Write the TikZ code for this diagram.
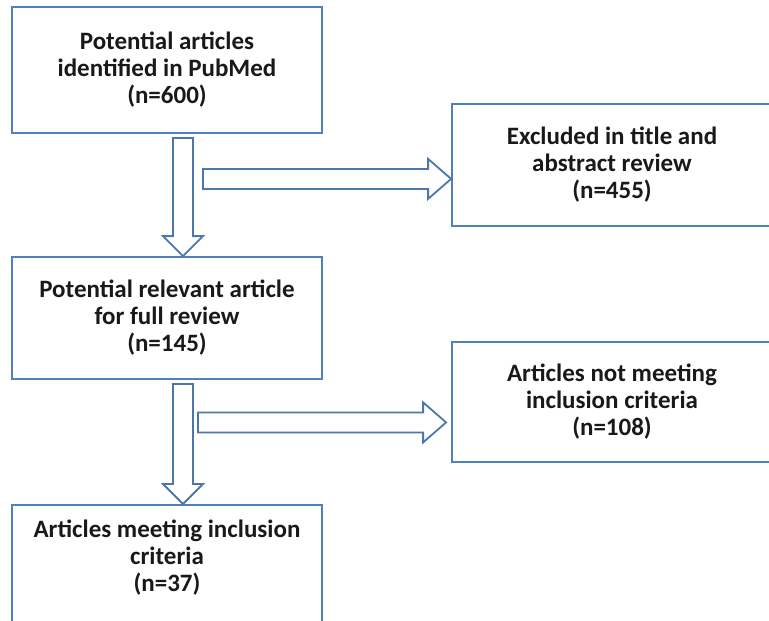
\documentclass[tikz,border=0pt]{standalone}
\usepackage{fontspec}
\setmainfont{Carlito}
\usetikzlibrary{calc}
\definecolor{boxblue}{HTML}{4F81BD}
\definecolor{arrowblue}{HTML}{4A78AC}
\begin{document}
\begin{tikzpicture}[x=1pt,y=-1pt,
  txt/.style={align=center, font=\fontsize{25}{27}\selectfont\bfseries, text=black!90},
  box/.style={txt, draw=boxblue, line width=1.8pt, rectangle, inner sep=0pt},
  fatdown/.style={draw=arrowblue, line width=1.8pt, fill=white, line join=miter,
    to path={let \p1=(\tikztostart), \p2=(\tikztotarget) in
      (\x1-10pt,\y1) -- (\x1+10pt,\y1) -- (\x1+10pt,\y2+20pt) -- (\x1+20pt,\y2+20pt)
      -- (\x1,\y2) -- (\x1-20pt,\y2+20pt) -- (\x1-10pt,\y2+20pt) -- cycle}},
  fatright/.style={draw=arrowblue, line width=1.8pt, fill=white, line join=miter,
    to path={let \p1=(\tikztostart), \p2=(\tikztotarget) in
      (\x1,\y1+10pt) -- (\x2-23pt,\y1+10pt) -- (\x2-23pt,\y1+20pt) -- (\x2,\y1)
      -- (\x2-23pt,\y1-20pt) -- (\x2-23pt,\y1-10pt) -- (\x1,\y1-10pt) -- cycle}}
]
\useasboundingbox (0,0) rectangle (769,621);
\clip (0,0) rectangle (769,621);

\node[box, minimum width=310pt, minimum height=126pt] (b1) at (167,70)
  {Potential articles\\identified in PubMed\\(n=600)};
\node[box, minimum width=310pt, minimum height=122pt] (b2) at (167,318)
  {Potential relevant article\\for full review\\(n=145)};
\node[box, minimum width=320pt, minimum height=122pt] (ex) at (612,165)
  {Excluded in title and\\abstract review\\(n=455)};
\node[box, minimum width=320pt, minimum height=120pt] (nm) at (612,402)
  {Articles not meeting\\inclusion criteria\\(n=108)};
\node[box, minimum width=310pt, minimum height=140pt, anchor=north] (b3) at (167,504) {};
\node[txt] (t3) at (167,558) {Articles meeting inclusion\\criteria\\(n=37)};

\coordinate (a1s) at ($(b1.south)+(16,4)$);
\coordinate (a1e) at ($(b2.north)+(16,0)$);
\coordinate (r1s) at ($(a1s)+(20,41)$);
\coordinate (r1e) at ($(ex.west)+(0,13)$);
\coordinate (a2s) at ($(b2.south)+(16,4)$);
\coordinate (a2e) at ($(b3.north)+(16,0)$);
\coordinate (r2s) at ($(a2s)+(15,38.5)$);
\coordinate (r2e) at ($(nm.west)+(-5,19.5)$);

\draw[fatdown] (a1s) to (a1e);
\draw[fatright] (r1s) to (r1e);
\draw[fatdown] (a2s) to (a2e);
\draw[fatright] (r2s) to (r2e);
\end{tikzpicture}
\end{document}
